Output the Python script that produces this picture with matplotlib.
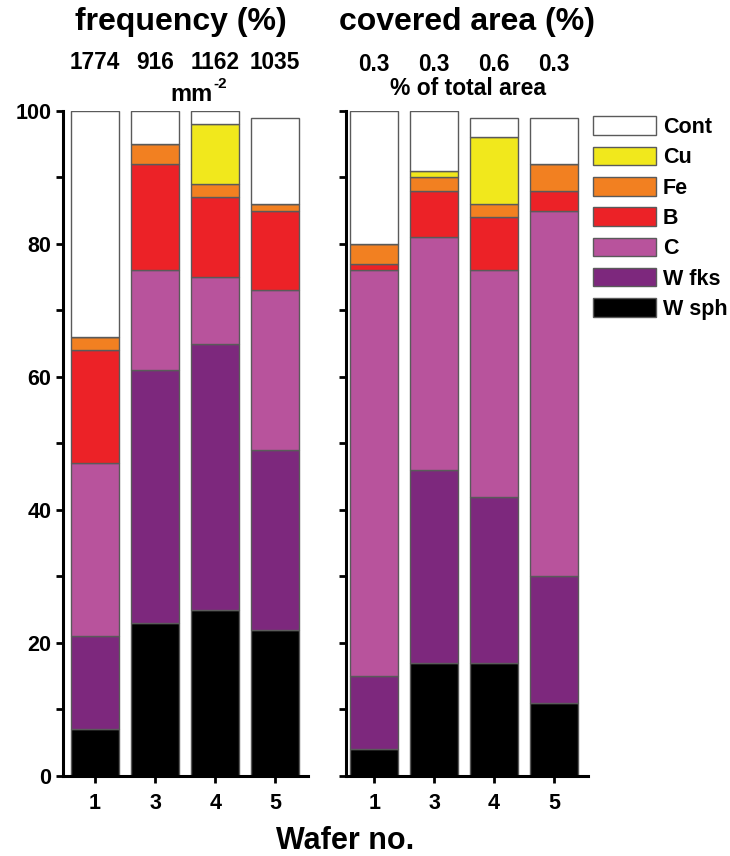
import matplotlib.pyplot as plt
from matplotlib.transforms import blended_transform_factory

plt.rcParams['font.family'] = ['Liberation Sans', 'DejaVu Sans']
plt.rcParams['font.weight'] = 'bold'

# --- data ---
wafers = ['1', '3', '4', '5']
classes = ['W sph', 'W fks', 'C', 'B', 'Fe', 'Cu', 'Cont']
colors = ['#000000', '#7d287d', '#b8539c', '#ec2227', '#f28021', '#f1e81c', '#ffffff']

# frequency (%) per particle class, stacked bottom to top
freq_w_sph = [7, 23, 25, 22]
freq_w_fks = [14, 38, 40, 27]
freq_c     = [26, 15, 10, 24]
freq_b     = [17, 16, 12, 12]
freq_fe    = [2, 3, 2, 1]
freq_cu    = [0, 0, 9, 0]
freq_cont  = [34, 5, 2, 13]

# covered area (%) per particle class
area_w_sph = [4, 17, 17, 11]
area_w_fks = [11, 29, 25, 19]
area_c     = [61, 35, 34, 55]
area_b     = [1, 7, 8, 3]
area_fe    = [3, 2, 2, 4]
area_cu    = [0, 1, 10, 0]
area_cont  = [20, 9, 3, 7]

density_labels = ['1774', '916', '1162', '1035']   # particles per mm^2
area_labels = ['0.3', '0.3', '0.6', '0.3']         # % of total area

freq = [freq_w_sph, freq_w_fks, freq_c, freq_b, freq_fe, freq_cu, freq_cont]
area = [area_w_sph, area_w_fks, area_c, area_b, area_fe, area_cu, area_cont]

fig = plt.figure(figsize=(7.3, 8.56), dpi=100)
ax1 = fig.add_axes([0.0863, 0.0935, 0.336, 0.777])
ax2 = fig.add_axes([0.474, 0.0935, 0.3315, 0.777])

x = list(range(len(wafers)))


def stacked(ax, series):
    bottom = [0] * len(x)
    handles = []
    for vals, col, name in zip(series, colors, classes):
        h = ax.bar(x, vals, width=0.8, bottom=bottom, color=col,
                   edgecolor='#5a5a5a', linewidth=1.0, label=name)
        handles.append(h)
        bottom = [b + v for b, v in zip(bottom, vals)]
    ax.set_ylim(0, 100)
    ax.set_xticks(x)
    ax.set_xticklabels(wafers, fontsize=15.5, fontweight='bold')
    ax.set_yticks(range(0, 101, 20))
    ax.set_yticks(range(10, 100, 20), minor=True)
    for s in ['top', 'right']:
        ax.spines[s].set_visible(False)
    for s in ['left', 'bottom']:
        ax.spines[s].set_linewidth(2.2)
    ax.tick_params(which='both', width=2, length=5, direction='out')
    ax.tick_params(axis='x', pad=7)
    return handles


handles = stacked(ax1, freq)
ax1.set_xlim(-0.535, 3.55)
ax1.set_yticklabels([str(v) for v in range(0, 101, 20)], fontsize=15.5, fontweight='bold')

stacked(ax2, area)
ax2.set_xlim(-0.47, 3.57)
ax2.set_yticklabels([])

# headers above the panels
ax1.text(0.48, 1.133, 'frequency (%)', transform=ax1.transAxes, ha='center', va='center',
         fontsize=23, fontweight='bold')
ax2.text(0.5, 1.133, 'covered area (%)', transform=ax2.transAxes, ha='center', va='center',
         fontsize=23, fontweight='bold')

t1 = blended_transform_factory(ax1.transData, ax1.transAxes)
for xi, lab in zip(x, density_labels):
    ax1.text(xi, 1.072, lab, transform=t1, ha='center', va='center', fontsize=16.3, fontweight='bold')
ax1.text(1.6, 1.024, 'mm', transform=t1, ha='center', va='center', fontsize=17, fontweight='bold')
ax1.annotate('-2', xy=(1.6, 1.024), xycoords=t1, xytext=(16, 8), textcoords='offset points',
             ha='left', va='center', fontsize=11, fontweight='bold')

t2 = blended_transform_factory(ax2.transData, ax2.transAxes)
for xi, lab in zip(x, area_labels):
    ax2.text(xi, 1.069, lab, transform=t2, ha='center', va='center', fontsize=16.3, fontweight='bold')
ax2.text(1.57, 1.033, '% of total area', transform=t2, ha='center', va='center',
         fontsize=16.5, fontweight='bold')

fig.text(0.473, 0.0, 'Wafer no.', ha='center', va='bottom', fontsize=22, fontweight='bold')

leg = fig.legend(handles[::-1], classes[::-1], loc='upper left', bbox_to_anchor=(0.806, 0.869),
                 frameon=False, fontsize=15.5, handlelength=2.95, handleheight=0.95,
                 labelspacing=0.4, handletextpad=0.3, borderaxespad=0, borderpad=0.2)
for t in leg.get_texts():
    t.set_fontweight('bold')

fig.savefig('out.png', dpi=100)
